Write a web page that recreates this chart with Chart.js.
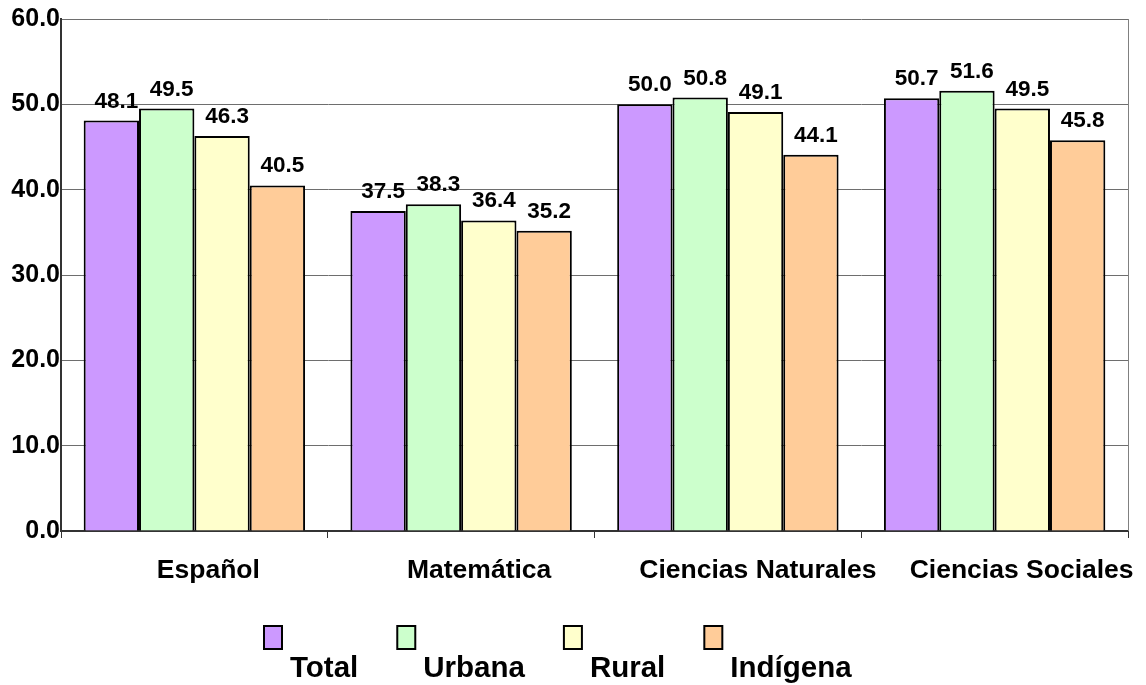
<!DOCTYPE html>
<html>
<head>
<meta charset="utf-8">
<script src="https://cdn.jsdelivr.net/npm/chart.js@4.4.1/dist/chart.umd.min.js"></script>
<style>
  html, body { margin: 0; padding: 0; background: #fff; }
  #wrap { width: 1146px; height: 685px; position: relative; }
</style>
</head>
<body>
<div id="wrap"><canvas id="c" width="1146" height="685"></canvas></div>
<script>
// Subjects and average scores by area
const categories = ['Español', 'Matemática', 'Ciencias Naturales', 'Ciencias Sociales'];
const seriesNames = ['Total', 'Urbana', 'Rural', 'Indígena'];
const total    = [48.1, 37.5, 50.0, 50.7];
const urbana   = [49.5, 38.3, 50.8, 51.6];
const rural    = [46.3, 36.4, 49.1, 49.5];
const indigena = [40.5, 35.2, 44.1, 45.8];
const yTicks = [0, 10, 20, 30, 40, 50, 60];

const fills = ['#CC99FF', '#CCFFCC', '#FFFFCC', '#FFCC99'];
const FONT = '"Liberation Sans", Arial, sans-serif';

const datasets = [total, urbana, rural, indigena].map((vals, i) => ({
  label: seriesNames[i],
  data: vals,
  backgroundColor: fills[i],
  borderColor: '#000',
  borderWidth: 2,
  borderSkipped: 'bottom',
  categoryPercentage: 0.83,
  barPercentage: 1.0
}));

// Value labels above each bar
const valueLabels = {
  id: 'valueLabels',
  afterDatasetsDraw(chart) {
    const ctx = chart.ctx;
    ctx.save();
    ctx.font = 'bold 22.5px ' + FONT;
    ctx.fillStyle = '#000';
    ctx.textAlign = 'center';
    ctx.textBaseline = 'alphabetic';
    chart.data.datasets.forEach((ds, di) => {
      chart.getDatasetMeta(di).data.forEach((el, i) => {
        ctx.fillText(ds.data[i].toFixed(1), el.x + 5, el.y - 13);
      });
    });
    ctx.restore();
  }
};

// Category names under the axis, plot frame and the legend row
const decorations = {
  id: 'decorations',
  beforeDatasetsDraw(chart) {
    const { ctx, chartArea } = chart;
    ctx.save();
    ctx.strokeStyle = '#808080';
    ctx.lineWidth = 1;
    ctx.beginPath();
    ctx.moveTo(chartArea.right + 0.5, chartArea.top);
    ctx.lineTo(chartArea.right + 0.5, chartArea.bottom);
    ctx.stroke();
    ctx.restore();
  },
  afterDraw(chart, args, opts) {
    const { ctx } = chart;
    const xScale = chart.scales.x;
    ctx.save();
    ctx.fillStyle = '#000';
    ctx.font = 'bold 26.5px ' + FONT;
    ctx.textAlign = 'center';
    ctx.textBaseline = 'alphabetic';
    categories.forEach((name, i) => {
      ctx.fillText(name, xScale.getPixelForTick(i) + opts.labelShift[i], opts.labelBaseline);
    });

    // legend: swatch, then name set lower and to the right
    ctx.font = 'bold 29.5px ' + FONT;
    ctx.textAlign = 'left';
    let x = opts.legendX;
    seriesNames.forEach((name, i) => {
      ctx.fillStyle = fills[i];
      ctx.fillRect(x, opts.legendY, 18, 23);
      ctx.strokeStyle = '#000';
      ctx.lineWidth = 2;
      ctx.strokeRect(x, opts.legendY, 18, 23);
      ctx.fillStyle = '#000';
      ctx.fillText(name, x + 26, opts.legendY + 51);
      x += 26 + ctx.measureText(name).width + 39;
    });
    ctx.restore();
  }
};

new Chart(document.getElementById('c'), {
  type: 'bar',
  data: { labels: categories, datasets },
  plugins: [valueLabels, decorations],
  options: {
    responsive: false,
    animation: false,
    layout: { padding: { top: 19, right: 18, left: 0, bottom: 0 } },
    plugins: {
      legend: { display: false },
      tooltip: { enabled: false },
      decorations: {
        labelShift: [14, 18, 30, 27],
        labelBaseline: 578,
        legendX: 264,
        legendY: 626
      }
    },
    scales: {
      x: {
        ticks: { display: false },
        grid: {
          display: true,
          drawOnChartArea: false,
          drawTicks: true,
          tickLength: 7,
          color: '#333',
          offset: true
        },
        border: { color: '#333', width: 2 },
        afterFit(scale) { scale.height = 154; }
      },
      y: {
        min: 0,
        max: 60,
        afterBuildTicks(scale) { scale.ticks = yTicks.map(v => ({ value: v })); },
        ticks: {
          padding: 1,
          color: '#000',
          font: { family: FONT, size: 25, weight: 'bold' },
          callback: v => Number(v).toFixed(1)
        },
        grid: { color: '#6e6e6e', lineWidth: 1, drawTicks: false },
        border: { color: '#333', width: 2 },
        afterFit(scale) { scale.width = 61; }
      }
    }
  }
});
</script>
</body>
</html>
